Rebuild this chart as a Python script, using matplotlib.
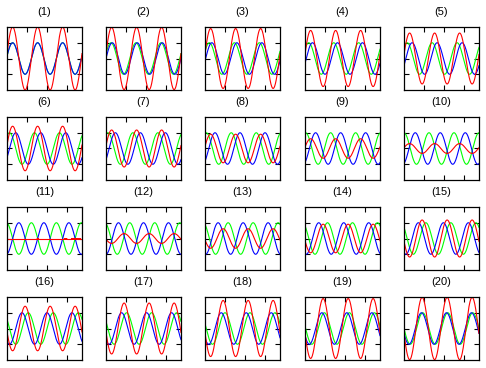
import numpy as np
import matplotlib
matplotlib.use("Agg")
import matplotlib.pyplot as plt

# ── Data ──────────────────────────────────────────────────────────────────────
# 20 snapshots of two counter-propagating unit waves (blue, green) and their sum (red)
panel_titles = ["(%d)" % i for i in range(1, 21)]

# phase shift (degrees) of each wave in each snapshot
blue_shift_deg = [0, 9, 18, 27, 36, 45, 54, 63, 72, 81,
                  90, 99, 108, 117, 126, 135, 144, 153, 162, 171]
green_shift_deg = [0, -9, -18, -27, -36, -45, -54, -63, -72, -81,
                   -90, -99, -108, -117, -126, -135, -144, -153, -162, -171]

wave_amp = 1.0
wavelength = 1.25
phase0_deg = 9.0
x_max = 3.75

y_ticks = [-1, 0, 1]
x_ticks = [1, 2, 3]

# ── Plot ──────────────────────────────────────────────────────────────────────
fig = plt.figure(figsize=(4.86, 3.68), dpi=100)
plt.rcParams["font.family"] = ["Liberation Sans", "DejaVu Sans"]

W, H = 486.0, 368.0
ax_w, ax_h = 75.0, 63.0
col_left = [7.0, 106.0, 205.0, 305.0, 404.0]
row_top = [27.0, 117.0, 207.0, 297.0]

x = np.linspace(0, x_max, 300)
k = 2 * np.pi / wavelength
p0 = np.deg2rad(phase0_deg)

for i in range(20):
    r, c = divmod(i, 5)
    ax = fig.add_axes([col_left[c] / W, 1 - (row_top[r] + ax_h) / H,
                       ax_w / W, ax_h / H])
    blue = wave_amp * np.sin(k * x + p0 - np.deg2rad(blue_shift_deg[i]))
    green = wave_amp * np.sin(k * x + p0 - np.deg2rad(green_shift_deg[i]))
    red = blue + green

    ax.plot(x, green, color="#00ff00", lw=0.8)
    ax.plot(x, blue, color="#0000ff", lw=0.8)
    ax.plot(x, red, color="#ff0000", lw=0.8)

    ax.set_xlim(0, x_max)
    ax.set_ylim(-2, 2)
    ax.set_xticks(x_ticks)
    ax.set_yticks(y_ticks)
    ax.tick_params(direction="in", length=3.5, width=0.8,
                   top=True, right=True, labelbottom=False, labelleft=False)
    for s in ax.spines.values():
        s.set_linewidth(0.9)
    ax.set_title(panel_titles[i], fontsize=8, pad=8.5)

plt.savefig("out.png", dpi=100)
plt.close()
